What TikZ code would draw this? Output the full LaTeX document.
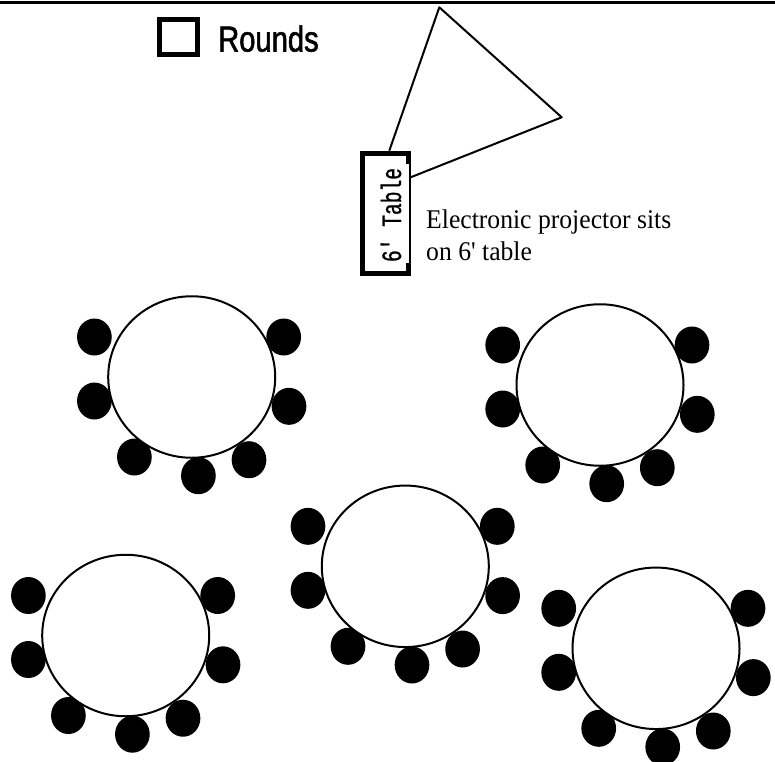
\documentclass[tikz,border=0pt]{standalone}
\usepackage{fontspec}
\setmainfont{Liberation Serif}
\newfontfamily\notefont[FakeStretch=0.95]{Liberation Serif}
\newfontfamily\roundsfont[FakeStretch=0.81, FakeBold=1.5]{Liberation Sans}
\newfontfamily\labelfont[FakeStretch=0.7, FakeBold=0.9]{Liberation Mono}
\usetikzlibrary{positioning, shapes.geometric}

\begin{document}
\begin{tikzpicture}[x=1pt, y=-1pt,
        RT/.style = {draw, black, fill=white, ellipse, line width=2pt, minimum width=167pt, minimum height=161.5pt, inner sep=0pt},%
        seat/.style = {fill=black, ellipse, minimum width=34.7pt, minimum height=37pt, inner sep=0pt},%
        legendbox/.style = {draw, black, line width=5pt, minimum width=37.7pt, minimum height=35pt, inner sep=0pt},%
        projbox/.style = {draw, black, line width=5pt, minimum width=45.7pt, minimum height=120.3pt, inner sep=0pt},%
        note/.style = {align=left, inner sep=0pt, font=\notefont\fontsize{27}{31.7}\selectfont}%
    ]%
        \clip (0,0) rectangle (775,761);
        \coordinate (ruleL) at (0,2);
        \coordinate (ruleR) at (775,2);
        \draw[line width=3pt] (ruleL) -- (ruleR);
        % tables, each with its seven seats
        \foreach \tbl/\tx/\ty in {1/191.7/377, 2/600/385, 3/405.3/566.3, 4/125.7/635.5, 5/656/648.3} {
            \foreach \s/\dx/\dy in {1/-97.3/-40, 2/-97.3/24, 3/-57.3/80, 4/6.7/98.7, 5/57.3/82.7, 6/97.3/29.3, 7/92/-40}
                \node[seat] (t\tbl s\s) at (\tx+\dx, \ty+\dy) {};
            \node[RT] (t\tbl) at (\tx,\ty) {};
        }
        % legend
        \node[legendbox] (legend) at (178.7,37.3) {};
        \node[font=\roundsfont\fontsize{36}{36}\selectfont, inner sep=0pt, anchor=base west] (rounds) at (218,51.5) {Rounds};
        % projector
        \node[projbox] (projtable) at (385.3,213.3) {};
        \fill[white] (405.6,164) rectangle (408.7,263);
        \node[rotate=90, inner sep=0pt, font=\labelfont\fontsize{28}{28}\selectfont] (tablelabel) at (391,215) {6' Table};
        \coordinate (apex) at (439.3,7.3);
        \coordinate (beam) at (561.7,117.3);
        \draw[line width=2pt, line join=round] ([xshift=4pt]projtable.north) -- (apex) -- (beam) -- ([yshift=36pt]projtable.east);
        \node[note, anchor=north west] (projnote) at (426,209.5) {Electronic projector sits\\on 6' table};
    \end{tikzpicture}
\end{document}
